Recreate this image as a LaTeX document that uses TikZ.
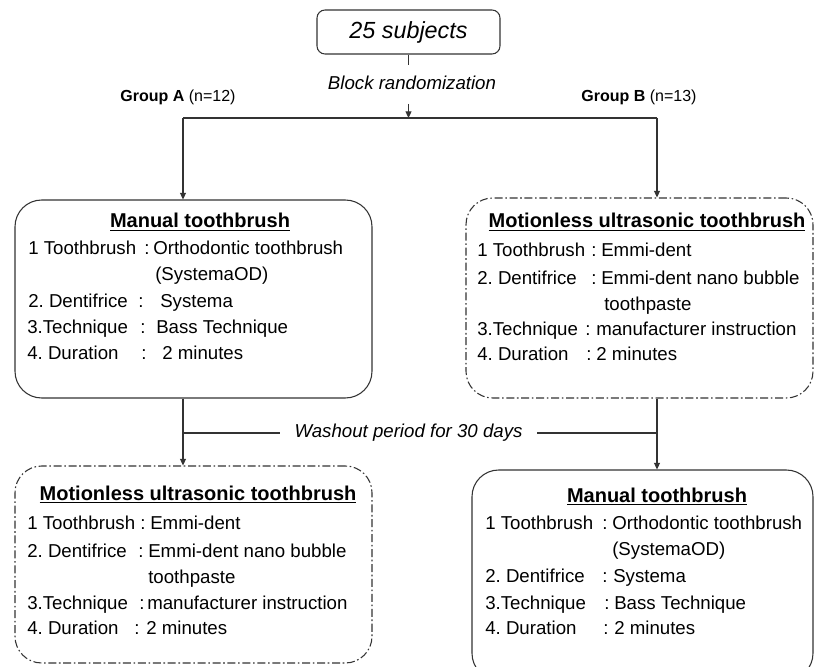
\documentclass[tikz,border=0pt]{standalone}
\usepackage{fontspec}
\setmainfont{Liberation Sans}
\usetikzlibrary{arrows.meta}
\frenchspacing
\begin{document}
\begin{tikzpicture}[x=0.75pt,y=-0.75pt,
  conn/.style={line width=0.8pt, draw=black!80},
  arr/.style={conn,-{Triangle[length=5pt,width=4.5pt]}},
  solidbox/.style={draw=black!80, line width=0.8pt, rounded corners=20pt, inner sep=0pt},
  dashbox/.style={solidbox, dash pattern=on 6pt off 2pt on 1.2pt off 2pt},
  txt/.style={inner sep=0pt, anchor=base west, font=\fontsize{14}{16}\selectfont},
  ttl/.style={inner sep=0pt, anchor=base, font=\fontsize{15}{17}\selectfont\bfseries},
  itl/.style={inner sep=0pt, font=\fontsize{14}{16}\selectfont\itshape},
  grp/.style={inner sep=0pt, font=\fontsize{12}{14}\selectfont},
]
\useasboundingbox (0,0) rectangle (815,667);
\fill[white] (0,0) rectangle (815,667);

% boxes
\node[draw=black!80, line width=0.8pt, rounded corners=6pt, minimum width=137.25pt, minimum height=33pt, inner sep=0pt,
      font=\fontsize{17.5}{20}\selectfont\itshape] (top) at (408.5,32) {25 subjects};
\node[solidbox, minimum width=267.75pt, minimum height=148.5pt] (tl) at (193.5,299) {};
\node[dashbox, minimum width=260.25pt, minimum height=150pt] (tr) at (639.5,298) {};
\node[dashbox, minimum width=267.75pt, minimum height=147.75pt] (bl) at (193.5,564.5) {};
\node[solidbox, minimum width=255.75pt, minimum height=157.5pt] (br) at (642.5,575) {};

% randomization
\coordinate (s1) at (408.5,65);
\node[itl] (rand) at (412,83) {Block randomization};
\coordinate (s2) at (408.5,104);
\coordinate (jm) at (408.5,118);
\coordinate (jl) at (183,118);
\coordinate (jr) at (657,118);
\draw[conn] (top.south) -- (s1);
\draw[arr] (s2) -- (jm);
\draw[conn] (jl) -- (jr);
\draw[arr] (jl) -- (jl |- tl.north);
\draw[arr] (jr) -- (jr |- tr.north);

\node[grp] (ga) at (178,97) {\textbf{Group A} (n=12)};
\node[grp] (gb) at (639,97) {\textbf{Group B} (n=13)};

% washout
\coordinate (wl) at (183,433);
\coordinate (wr) at (657,433);
\node[itl, inner xsep=11pt] (wash) at (408.5,433) {Washout period for 30 days};
\draw[arr] (tl.south -| wl) -- (bl.north -| wl);
\draw[arr] (tr.south -| wr) -- (br.north -| wr);
\draw[conn] (wl) -- (wash.west);
\draw[conn] (wash.east) -- (wr);

% top-left text
\node[ttl] (tlt) at (200,228) {\underline{Manual toothbrush}};
\node[txt] (tl1a) at (28,254) {1 Toothbrush};
\node[txt] (tl1b) at (144,254) {:};
\node[txt] (tl1c) at (153,254) {Orthodontic toothbrush};
\node[txt] (tl2c) at (155,280) {(SystemaOD)};
\node[txt] (tl3a) at (28,307) {2. Dentifrice};
\node[txt] (tl3b) at (138,307) {:};
\node[txt] (tl3c) at (160,307) {Systema};
\node[txt] (tl4a) at (27,333) {3.Technique};
\node[txt] (tl4b) at (140,333) {:};
\node[txt] (tl4c) at (156,333) {Bass Technique};
\node[txt] (tl5a) at (27,359) {4. Duration};
\node[txt] (tl5b) at (141,359) {:};
\node[txt] (tl5c) at (162,359) {2 minutes};

% top-right text
\node[ttl] (trt) at (647,228) {\underline{Motionless ultrasonic toothbrush}};
\node[txt] (tr1a) at (477,256) {1 Toothbrush};
\node[txt] (tr1b) at (591,256) {:};
\node[txt] (tr1c) at (601,256) {Emmi-dent};
\node[txt] (tr2a) at (477,284) {2. Dentifrice};
\node[txt] (tr2b) at (591,284) {:};
\node[txt] (tr2c) at (601,284) {Emmi-dent nano bubble};
\node[txt] (tr3c) at (604,310) {toothpaste};
\node[txt] (tr4a) at (477,335) {3.Technique};
\node[txt] (tr4b) at (585,335) {:};
\node[txt] (tr4c) at (596,335) {manufacturer instruction};
\node[txt] (tr5a) at (477,360) {4. Duration};
\node[txt] (tr5b) at (586,360) {:};
\node[txt] (tr5c) at (596,360) {2 minutes};

% bottom-left text
\node[ttl] (blt) at (198,500) {\underline{Motionless ultrasonic toothbrush}};
\node[txt] (bl1a) at (27,529) {1 Toothbrush};
\node[txt] (bl1b) at (140,529) {:};
\node[txt] (bl1c) at (150,529) {Emmi-dent};
\node[txt] (bl2a) at (27,557) {2. Dentifrice};
\node[txt] (bl2b) at (138,557) {:};
\node[txt] (bl2c) at (148,557) {Emmi-dent nano bubble};
\node[txt] (bl3c) at (148,583) {toothpaste};
\node[txt] (bl4a) at (27,609) {3.Technique};
\node[txt] (bl4b) at (139,609) {:};
\node[txt] (bl4c) at (147,609) {manufacturer instruction};
\node[txt] (bl5a) at (27,634) {4. Duration};
\node[txt] (bl5b) at (134,634) {:};
\node[txt] (bl5c) at (146,634) {2 minutes};

% bottom-right text
\node[ttl] (brt) at (657,502) {\underline{Manual toothbrush}};
\node[txt] (br1a) at (485,529) {1 Toothbrush};
\node[txt] (br1b) at (602,529) {:};
\node[txt] (br1c) at (612,529) {Orthodontic toothbrush};
\node[txt] (br2c) at (612,555) {(SystemaOD)};
\node[txt] (br3a) at (485,582) {2. Dentifrice};
\node[txt] (br3b) at (602,582) {:};
\node[txt] (br3c) at (613,582) {Systema};
\node[txt] (br4a) at (485,609) {3.Technique};
\node[txt] (br4b) at (604,609) {:};
\node[txt] (br4c) at (614,609) {Bass Technique};
\node[txt] (br5a) at (485,634) {4. Duration};
\node[txt] (br5b) at (603,634) {:};
\node[txt] (br5c) at (614,634) {2 minutes};
\end{tikzpicture}
\end{document}
